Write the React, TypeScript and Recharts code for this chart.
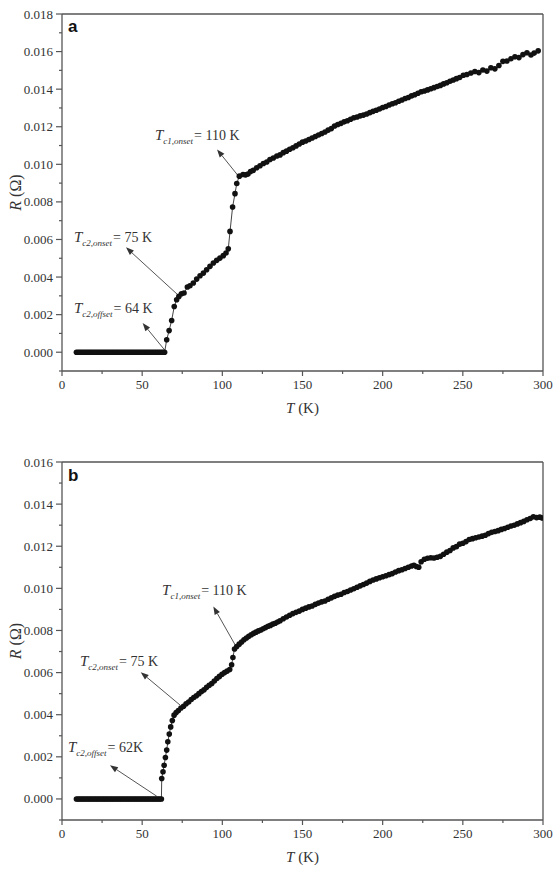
import React from "react";
import { LineChart, Line, XAxis, YAxis, ReferenceLine, ReferenceDot, Label } from "recharts";

const SERIF = '"Liberation Serif", "Times New Roman", serif';
const SANS = '"Liberation Sans", Arial, sans-serif';
const INK = "#333";
const AXIS = "#555";

// axis ticks (minor + major)
const xTicks = [0, 25, 50, 75, 100, 125, 150, 175, 200, 225, 250, 275, 300];
const yTicksA = [
  -0.001, 0, 0.001, 0.002, 0.003, 0.004, 0.005, 0.006, 0.007, 0.008, 0.009, 0.01, 0.011, 0.012, 0.013, 0.014,
  0.015, 0.016, 0.017, 0.018,
];
const yTicksB = [
  -0.001, 0, 0.001, 0.002, 0.003, 0.004, 0.005, 0.006, 0.007, 0.008, 0.009, 0.01, 0.011, 0.012, 0.013, 0.014,
  0.015, 0.016,
];

// panel a — superconducting (R = 0) temperatures
const aZeroT = [
  9, 10, 11, 12, 13, 14, 15, 16, 17, 18, 19, 20, 21, 22, 23, 24, 25, 26, 27, 28, 29, 30, 31, 32, 33, 34, 35, 36,
  37, 38, 39, 40, 41, 42, 43, 44, 45, 46, 47, 48, 49, 50, 51, 52, 53, 54, 55, 56, 57, 58, 59, 60, 61, 62, 63, 64,
];
// panel a — transition [T, R]
const aRise: [number, number][] = [
  [65.3, 0.00066], [66.8, 0.00115], [68.4, 0.00169], [70, 0.00243], [71.5, 0.00279], [72.9, 0.00297],
  [74.5, 0.00311], [76.1, 0.00315], [78.2, 0.00347], [79.8, 0.00354], [81.9, 0.00368], [84, 0.00389],
  [86.1, 0.00407], [88.2, 0.00421], [90.2, 0.00439], [92.3, 0.00457], [94.4, 0.00475], [96.5, 0.00489],
  [98.5, 0.00501], [100.6, 0.00514], [102.3, 0.00528], [103.7, 0.0055], [104.8, 0.00643], [106.4, 0.00773],
  [107.9, 0.00844], [109, 0.00898],
];
// panel a — normal state [T, R]
const aNormal: [number, number][] = [
  [110.6, 0.00937], [112.9, 0.00946], [114.5, 0.00944], [116, 0.00948], [117.6, 0.00962], [119.3, 0.00968],
  [121.4, 0.00982], [123.5, 0.00992], [125.6, 0.01004], [127.7, 0.01012], [129.7, 0.01026], [131.8, 0.01034],
  [134, 0.01044], [136, 0.0105], [138, 0.01062], [140, 0.0107], [142, 0.0108], [144, 0.01088],
  [146, 0.01098], [148, 0.01108], [150, 0.01118], [152, 0.01124], [154, 0.01132], [156, 0.0114],
  [158, 0.01148], [160, 0.01156], [162, 0.01164], [164, 0.01172], [166, 0.01182], [168, 0.0119],
  [170, 0.01204], [172, 0.01212], [174, 0.01218], [176, 0.01226], [178, 0.01232], [180, 0.0124],
  [182, 0.01248], [184, 0.01252], [186, 0.01258], [188, 0.01262], [190, 0.01268], [192, 0.01275],
  [194, 0.01282], [196, 0.01288], [198, 0.01294], [200, 0.01302], [202, 0.01308], [204, 0.01316],
  [206, 0.01322], [208, 0.01328], [210, 0.01336], [212, 0.01342], [214, 0.0135], [216, 0.01356],
  [218, 0.01364], [220, 0.0137], [222, 0.01378], [224, 0.01386], [226, 0.0139], [228, 0.01396],
  [230, 0.01402], [232, 0.01408], [234, 0.01414], [236, 0.0142], [238, 0.01428], [240, 0.01434],
  [242, 0.01442], [244, 0.01449], [246, 0.01456], [248, 0.01462], [250.3, 0.01474], [252.5, 0.01478],
  [255, 0.01486], [257.5, 0.01494], [260, 0.01488], [262.5, 0.01502], [265, 0.01496], [267.5, 0.01514],
  [270, 0.01508], [272.5, 0.01526], [275, 0.01548], [277.5, 0.0155], [280, 0.01562], [282.5, 0.01572],
  [285, 0.01568], [287.5, 0.01584], [290, 0.01594], [292.5, 0.01582], [294.5, 0.01592], [297, 0.01604],
];

// panel b
const bZeroT = [
  9, 10, 11, 12, 13, 14, 15, 16, 17, 18, 19, 20, 21, 22, 23, 24, 25, 26, 27, 28, 29, 30, 31, 32, 33, 34, 35, 36,
  37, 38, 39, 40, 41, 42, 43, 44, 45, 46, 47, 48, 49, 50, 51, 52, 53, 54, 55, 56, 57, 58, 59, 60, 61, 62,
];
const bRise: [number, number][] = [
  [62.2, 0.00097], [63, 0.00129], [63.7, 0.0016], [64.5, 0.00197], [65.3, 0.00232], [66, 0.00271],
  [66.9, 0.00308], [67.8, 0.00342], [68.8, 0.00372], [69.9, 0.00398], [71.2, 0.0041], [72.6, 0.0042],
  [74.2, 0.00432], [75.8, 0.0044], [77.4, 0.00452], [79, 0.0046], [80.6, 0.00472], [82.2, 0.00482],
  [83.8, 0.0049], [85.4, 0.005], [87, 0.0051], [88.6, 0.00518], [90.2, 0.0053], [91.8, 0.0054],
  [93.4, 0.00548], [95, 0.0056], [96.6, 0.00572], [98.2, 0.00582], [99.8, 0.00592], [101.4, 0.006],
  [103, 0.00607], [104.6, 0.00615], [105.8, 0.00637], [106.6, 0.00672], [107.6, 0.00712],
];
const bNormal: [number, number][] = [
  [109, 0.00724], [110.5, 0.00735], [112, 0.00745], [113.5, 0.00756], [115, 0.00764], [116.5, 0.00772],
  [118, 0.0078], [119.5, 0.00786], [121, 0.00792], [122.5, 0.00798], [124, 0.00802], [125.5, 0.00808],
  [127, 0.00814], [128.5, 0.0082], [130, 0.00824], [131.5, 0.0083], [133, 0.00834], [134.5, 0.0084],
  [136, 0.00846], [138, 0.00856], [140, 0.00864], [142, 0.00872], [144, 0.0088], [146, 0.00886],
  [148, 0.00892], [150, 0.009], [152, 0.00906], [154, 0.00912], [156, 0.00916], [158, 0.00924],
  [160, 0.0093], [162, 0.00936], [164, 0.0094], [166, 0.00948], [168, 0.00955], [170, 0.00962],
  [172, 0.00968], [174, 0.00972], [176, 0.0098], [178, 0.00985], [180, 0.00992], [182, 0.00998],
  [184, 0.01005], [186, 0.01012], [188, 0.01018], [190, 0.01025], [192, 0.01033], [194, 0.0104],
  [196, 0.01045], [198, 0.0105], [200, 0.01055], [202, 0.0106], [204, 0.01065], [206, 0.0107],
  [208, 0.01078], [210, 0.01084], [212, 0.01088], [214, 0.01094], [216, 0.011], [218, 0.01106],
  [219.5, 0.0111], [221, 0.01104], [222.5, 0.011], [224, 0.01126], [226, 0.01138], [228, 0.01143],
  [230, 0.01145], [232, 0.01144], [234, 0.01148], [236, 0.01152], [238, 0.01162], [240, 0.01172],
  [242, 0.0118], [244, 0.01192], [246, 0.01198], [248, 0.0121], [250, 0.01214], [252, 0.01222],
  [254, 0.01232], [256, 0.01236], [258, 0.0124], [260, 0.01244], [262, 0.01248], [264, 0.01252],
  [266, 0.0126], [268, 0.01266], [270, 0.0127], [272, 0.01274], [274, 0.0128], [276, 0.01284],
  [278, 0.0129], [280, 0.01296], [282, 0.013], [284, 0.01306], [286, 0.01312], [288, 0.01318],
  [290, 0.01326], [292, 0.01332], [294, 0.0134], [296, 0.01336], [298, 0.01338], [299.5, 0.01334],
];

type Note = { sub: string; rest: string; at: [number, number]; tail: [number, number]; head: [number, number] };

const notesA: Note[] = [
  { sub: "c1,onset", rest: "= 110 K", at: [58, 0.01127], tail: [109.8, 0.0094], head: [96.7, 0.01079] },
  { sub: "c2,onset", rest: "= 75 K", at: [7.5, 0.00587], tail: [73.6, 0.00295], head: [39.9, 0.00558] },
  { sub: "c2,offset", rest: "= 64 K", at: [7.5, 0.00211], tail: [64.2, 0.0001], head: [50.3, 0.00155] },
];
const notesB: Note[] = [
  { sub: "c1,onset", rest: "= 110 K", at: [62.4, 0.00967], tail: [109, 0.00718], head: [94.4, 0.00914] },
  { sub: "c2,onset", rest: "= 75 K", at: [11.2, 0.00632], tail: [73.6, 0.00446], head: [49.1, 0.00602] },
  { sub: "c2,offset", rest: "= 62K", at: [3.7, 0.00221], tail: [59.1, 0.00013], head: [29.9, 0.0016] },
];

const toRows = (zeroT: number[], ...segs: [number, number][][]) => [
  ...zeroT.map((T) => ({ T, R: 0 })),
  ...segs.flat().map(([T, R]) => ({ T, R })),
];

const dataA = toRows(aZeroT, aRise, aNormal);
const dataB = toRows(bZeroT, bRise, bNormal);

function XTick({ x, y, payload }: any) {
  const v = payload.value;
  const major = v % 50 === 0;
  return (
    <g>
      <line x1={x} x2={x} y1={y} y2={y + (major ? 5 : 3)} stroke={AXIS} strokeWidth={1.2} />
      {major && (
        <text x={x} y={y + 18} textAnchor="middle" fontFamily={SERIF} fontSize={13} fill={INK}>
          {v}
        </text>
      )}
    </g>
  );
}

function YTick({ x, y, payload }: any) {
  const v = payload.value;
  const k = Math.round(v * 1000);
  const major = k >= 0 && k % 2 === 0;
  return (
    <g>
      <line x1={x - (major ? 6 : 3)} x2={x} y1={y} y2={y} stroke={AXIS} strokeWidth={1.2} />
      {major && (
        <text x={x - 9} y={y + 4.5} textAnchor="end" fontFamily={SERIF} fontSize={13} fill={INK}>
          {v.toFixed(3)}
        </text>
      )}
    </g>
  );
}

function Arrow({ x1, y1, x2, y2 }: any) {
  const a = Math.atan2(y2 - y1, x2 - x1);
  const c = Math.cos(a);
  const s = Math.sin(a);
  const bx = x2 - 8 * c;
  const by = y2 - 8 * s;
  const pts = `${x2},${y2} ${bx - 3 * s},${by + 3 * c} ${bx + 3 * s},${by - 3 * c}`;
  return (
    <g>
      <line x1={x1} y1={y1} x2={bx} y2={by} stroke="#555" strokeWidth={1} />
      <polygon points={pts} fill="#333" />
    </g>
  );
}

function TcText({ cx, cy, sub, rest }: any) {
  return (
    <text x={cx} y={cy} fontFamily={SERIF} fontSize={14} fill={INK}>
      <tspan fontStyle="italic" fontSize={15}>T</tspan>
      <tspan fontStyle="italic" fontSize={9} dy={4}>{sub}</tspan>
      <tspan dy={-4} dx={1}>{rest}</tspan>
    </text>
  );
}

function Panel({ data, yTicks, yMax, letter, letterAt, notes, top, margin }: any) {
  return (
    <div style={{ position: "absolute", left: 0, top }}>
      <LineChart width={556} height={436} data={data} margin={margin}>
        <XAxis
          type="number"
          dataKey="T"
          domain={[0, 300]}
          ticks={xTicks}
          interval={0}
          tickSize={0}
          tickMargin={0}
          tickLine={false}
          tick={(p: any) => <XTick {...p} />}
          axisLine={{ stroke: AXIS, strokeWidth: 1.3 }}
          height={30}
          allowDataOverflow
        >
          <Label
            content={({ viewBox }: any) => (
              <text x={viewBox.x + viewBox.width / 2} y={viewBox.y + 42} textAnchor="middle" fontFamily={SERIF} fontSize={15} fill={INK}>
                <tspan fontStyle="italic">T</tspan> (K)
              </text>
            )}
          />
        </XAxis>
        <YAxis
          type="number"
          domain={[-0.001, yMax]}
          ticks={yTicks}
          interval={0}
          tickSize={0}
          tickMargin={0}
          tickLine={false}
          tick={(p: any) => <YTick {...p} />}
          axisLine={{ stroke: AXIS, strokeWidth: 1.3 }}
          width={62}
          allowDataOverflow
        >
          <Label
            content={({ viewBox }: any) => {
              const cy = viewBox.y + viewBox.height / 2;
              return (
                <text x={21} y={cy} transform={`rotate(-90 21 ${cy})`} textAnchor="middle" fontFamily={SERIF} fontSize={16} fill={INK}>
                  <tspan fontStyle="italic">R</tspan> (Ω)
                </text>
              );
            }}
          />
        </YAxis>
        <ReferenceLine y={yMax} stroke={AXIS} strokeWidth={1.3} />
        <ReferenceLine x={300} stroke={AXIS} strokeWidth={1.3} />
        {notes.map((n: Note, i: number) => (
          <ReferenceLine
            key={`arr${i}`}
            segment={[
              { x: n.tail[0], y: n.tail[1] },
              { x: n.head[0], y: n.head[1] },
            ]}
            shape={(p: any) => <Arrow {...p} />}
          />
        ))}
        {notes.map((n: Note, i: number) => (
          <ReferenceDot
            key={`txt${i}`}
            x={n.at[0]}
            y={n.at[1]}
            r={0}
            shape={(p: any) => <TcText cx={p.cx} cy={p.cy} sub={n.sub} rest={n.rest} />}
          />
        ))}
        <ReferenceDot
          x={letterAt[0]}
          y={letterAt[1]}
          r={0}
          shape={(p: any) => (
            <text x={p.cx} y={p.cy} fontFamily={SANS} fontWeight="bold" fontSize={17} fill="#111">
              {letter}
            </text>
          )}
        />
        <Line
          type="linear"
          dataKey="R"
          stroke="#444"
          strokeWidth={1}
          dot={{ r: 2.8, fill: "#111", stroke: "none" }}
          activeDot={false}
          isAnimationActive={false}
        />
      </LineChart>
    </div>
  );
}

export default function App() {
  return (
    <div style={{ position: "absolute", left: 0, top: 0, width: 556, height: 872, background: "#fff" }}>
      <Panel
        data={dataA}
        yTicks={yTicksA}
        yMax={0.018}
        letter="a"
        letterAt={[3.7, 0.01703]}
        notes={notesA}
        top={0}
        margin={{ top: 14, right: 13, left: 0, bottom: 35 }}
      />
      <Panel
        data={dataB}
        yTicks={yTicksB}
        yMax={0.016}
        letter="b"
        letterAt={[3.7, 0.0151]}
        notes={notesB}
        top={436}
        margin={{ top: 26, right: 13, left: 0, bottom: 22 }}
      />
    </div>
  );
}
